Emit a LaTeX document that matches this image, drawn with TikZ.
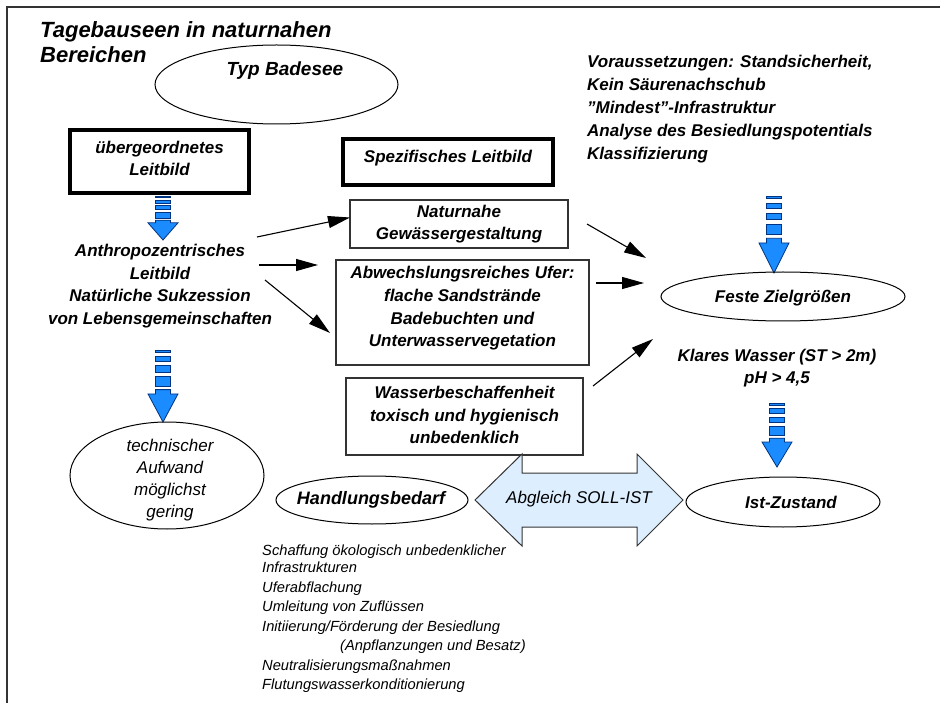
\documentclass[tikz,border=0pt]{standalone}
\usepackage{fontspec}
\setmainfont{Liberation Sans}
\usetikzlibrary{shapes.geometric,arrows.meta}
\definecolor{lineg}{RGB}{51,51,51}
\definecolor{barblue}{RGB}{26,140,255}
\definecolor{bardark}{RGB}{0,51,128}
\definecolor{paleblue}{RGB}{221,238,255}
\tikzset{
  bt/.style={font=\fontsize{17}{22.7}\selectfont\bfseries\itshape, align=center, inner sep=0pt},
  bigbt/.style={font=\fontsize{19}{22}\selectfont\bfseries\itshape, align=center, inner sep=0pt},
  it/.style={font=\fontsize{17}{22}\selectfont\itshape, align=center, inner sep=0pt},
  smallit/.style={font=\fontsize{14.7}{19.5}\selectfont\itshape, align=left, inner sep=0pt, anchor=west},
  titlet/.style={font=\fontsize{22}{25}\selectfont\bfseries\itshape, align=left, inner sep=0pt, anchor=west},
  thinbox/.style={draw=lineg, line width=1.1pt, inner sep=0pt},
  thickbox/.style={draw=black, line width=3.5pt, inner sep=0pt},
  ell/.style={ellipse, draw=black, line width=1pt, inner sep=0pt},
  conn/.style={-{Triangle[length=22pt,width=12pt]}, line width=1.1pt, black},
  frameline/.style={draw=lineg, line width=2pt},
  bars/.style={fill=barblue, draw=bardark, line width=0.8pt},
  dblarrow/.style={fill=paleblue, draw=lineg, line width=1pt}
}
\newcommand\blarrow[3]{%
  \begin{scope}[shift={(#1,#2)},yscale=#3]
    \filldraw[bars] (-7.5,0) rectangle (7.5,0.03);
    \filldraw[bars] (-7.5,0.09) rectangle (7.5,0.16);
    \filldraw[bars] (-7.5,0.22) rectangle (7.5,0.31);
    \filldraw[bars] (-7.5,0.37) rectangle (7.5,0.50);
    \filldraw[bars] (-7.5,0.55) -- (7.5,0.55) -- (7.5,0.61) -- (15,0.61) -- (0,1) -- (-15,0.61) -- (-7.5,0.61) -- cycle;
  \end{scope}}
\begin{document}
\begin{tikzpicture}[x=1pt,y=-1pt]
\useasboundingbox (0,0) rectangle (940,703);
\fill[white] (0,0) rectangle (940,703);
\draw[frameline] (7,703) -- (7,7) -- (940,7);

% title
\node[titlet] (title) at (40,42.5) {Tagebauseen in naturnahen\\Bereichen};

% Typ Badesee
\node[ell, minimum width=243pt, minimum height=79pt] (typ) at (276.5,84.5) {};
\node[bigbt] (typt) at (285,71) {Typ Badesee};

% left column
\node[thickbox, minimum width=179pt, minimum height=63pt] (ueber) at (159.5,161.5) {};
\node[bt] (uebert) at (159.5,158.5) {übergeordnetes\\Leitbild};
\blarrow{163}{196}{44}
\node[bt] (anthro) at (160,286) {Anthropozentrisches\\Leitbild\\Natürliche Sukzession\\von Lebensgemeinschaften};
\blarrow{163}{350}{72}
\node[ell, minimum width=194pt, minimum height=107pt] (tech) at (167,475.5) {};
\node[it] (techt) at (170,480) {technischer\\Aufwand\\möglichst\\gering};

% middle column
\node[thickbox, minimum width=210pt, minimum height=46pt] (spez) at (448,162) {};
\node[bt] (spezt) at (448,158) {Spezifisches Leitbild};
\node[thinbox, minimum width=218pt, minimum height=48pt] (nat) at (459,224) {};
\node[bt] (natt) at (459,224) {Naturnahe\\Gewässergestaltung};
\node[thinbox, minimum width=253pt, minimum height=105pt] (abw) at (462.5,312.5) {};
\node[bt] (abwt) at (462.5,308.5) {Abwechslungsreiches Ufer:\\flache Sandstrände\\Badebuchten und\\Unterwasservegetation};
\node[thinbox, minimum width=237pt, minimum height=77pt] (wass) at (464.5,416.5) {};
\node[bt] (wasst) at (464.5,415) {Wasserbeschaffenheit\\toxisch und hygienisch\\unbedenklich};

% right column
\node[bt, align=left, anchor=west, font=\fontsize{17}{23}\selectfont\bfseries\itshape] (vor) at (587,109.5) {Voraussetzungen: Standsicherheit,\\Kein Säurenachschub\\\char34 Mindest\char34 -Infrastruktur\\Analyse des Besiedlungspotentials\\Klassifizierung};
\blarrow{774}{196}{77}
\node[ell, minimum width=244pt, minimum height=49pt] (feste) at (783,296.5) {};
\node[bt] (festet) at (783,298) {Feste Zielgrößen};
\node[bt, font=\fontsize{17}{22}\selectfont\bfseries\itshape] (klar) at (777,368) {Klares Wasser (ST > 2m)\\pH > 4,5};
\blarrow{777}{403}{64}
\node[ell, minimum width=194pt, minimum height=50pt] (ist) at (783,502) {};
\node[bt] (istt) at (791,502) {Ist-Zustand};

% bottom row
\node[ell, minimum width=192pt, minimum height=48pt] (hand) at (372,500) {};
\node[bt, font=\fontsize{18}{22}\selectfont\bfseries\itshape] (handt) at (371,500) {Handlungsbedarf};
\filldraw[dblarrow] (475,500) -- (522,454) -- (522,473) -- (637,473) -- (637,454) -- (683,500) -- (637,546) -- (637,527) -- (522,527) -- (522,546) -- cycle;
\node[it] (abgl) at (579,499) {Abgleich SOLL-IST};

\node[smallit] (mass) at (262,619) {Schaffung ökologisch unbedenklicher\\[-2.5pt]Infrastrukturen\\Uferabflachung\\Umleitung von Zuflüssen\\Initiierung/Förderung der Besiedlung\\\hspace*{78pt}(Anpflanzungen und Besatz)\\Neutralisierungsmaßnahmen\\Flutungswasserkonditionierung};

% connectors
\coordinate (a1s) at (257,237);
\coordinate (a1e) at (350,217.5);
\coordinate (a2s) at (259,265);
\coordinate (a2e) at (318,265);
\coordinate (a3s) at (265,280);
\coordinate (a3e) at (330,333);
\coordinate (a4s) at (587,224);
\coordinate (a4e) at (646,258);
\coordinate (a5s) at (596,283);
\coordinate (a5e) at (644,283);
\coordinate (a6s) at (593,386);
\coordinate (a6e) at (653,339);
\draw[conn] (a1s) -- (a1e);
\draw[conn] (a2s) -- (a2e);
\draw[conn] (a3s) -- (a3e);
\draw[conn] (a4s) -- (a4e);
\draw[conn] (a5s) -- (a5e);
\draw[conn] (a6s) -- (a6e);
\end{tikzpicture}
\end{document}
